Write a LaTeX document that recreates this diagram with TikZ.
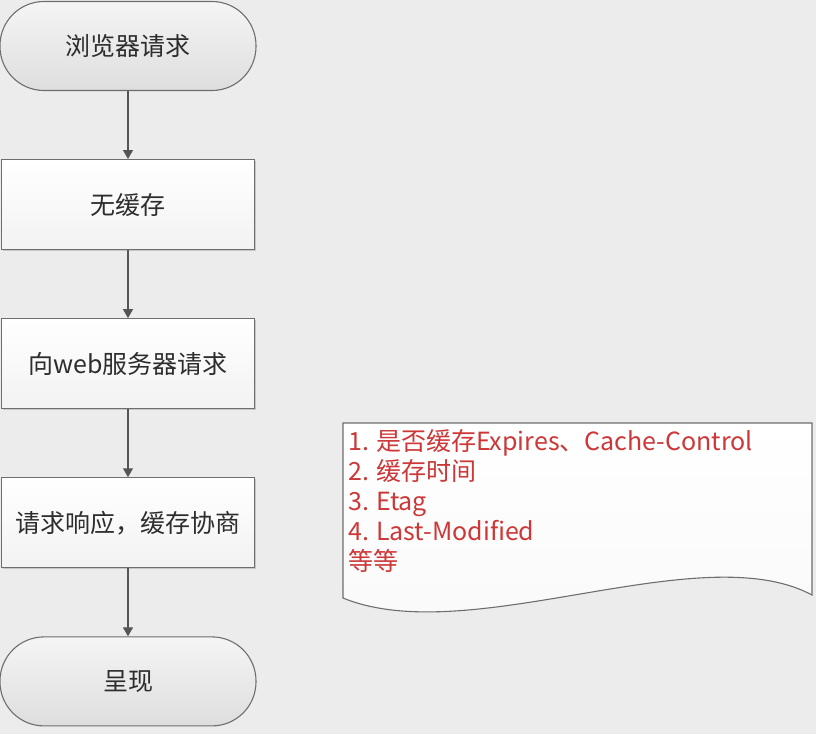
\documentclass[tikz,border=0pt]{standalone}
\usepackage{fontspec}
\setmainfont{Noto Sans CJK SC}
\usetikzlibrary{arrows.meta,positioning,shadows}
\definecolor{bggray}{RGB}{236,236,236}
\definecolor{linegray}{RGB}{110,110,110}
\definecolor{arrowgray}{RGB}{85,85,85}
\definecolor{textgray}{RGB}{45,45,45}
\definecolor{notered}{RGB}{205,55,55}
\newcommand{\nsp}{\hspace{0.28em}}

\begin{document}
\begin{tikzpicture}[x=1pt,y=-1pt,
  every node/.style={font=\fontsize{25}{30}\selectfont, text=textgray},
  term/.style={draw=linegray, line width=1.1pt, rounded corners=44pt,
    minimum width=256pt, minimum height=89pt,
    top color=gray!8, bottom color=gray!26},
  proc/.style={draw=linegray, line width=1.1pt,
    minimum width=253pt, minimum height=90pt,
    top color=white, bottom color=gray!10,
    drop shadow={shadow xshift=1.2pt, shadow yshift=-1.2pt, opacity=.35}},
  flow/.style={-{Triangle[length=9pt,width=10pt]}, draw=arrowgray, line width=1.2pt},
  node distance=68pt]
\fill[bggray] (0,0) rectangle (816,734);
\useasboundingbox (0,0) rectangle (816,734);

\node[term] (browser) at (128,46) {浏览器请求};
\node[proc, below=of browser] (nocache) {无缓存};
\node[proc, below=of nocache] (server) {向web服务器请求};
\node[proc, below=of server] (response) {请求响应，缓存协商};
\node[term, below=of response] (render) {呈现};

\draw[flow] (browser) -- (nocache);
\draw[flow] (nocache) -- (server);
\draw[flow] (server) -- (response);
\draw[flow] (response) -- (render);

% note sheet
\draw[draw=linegray, line width=1.1pt, top color=white, bottom color=gray!5]
  (343,423) -- (812,423) -- (812,595)
  .. controls (700,535) and (470,650) .. (343,598) -- cycle;
\node[anchor=base west, text width=460pt, align=left, inner sep=0pt, text=notered]
  (notes) at (348,450)
  {1.\nsp 是否缓存Expires、Cache-Control\\2.\nsp 缓存时间\\3.\nsp Etag\\4.\nsp Last-Modified\\等等};
\end{tikzpicture}
\end{document}
